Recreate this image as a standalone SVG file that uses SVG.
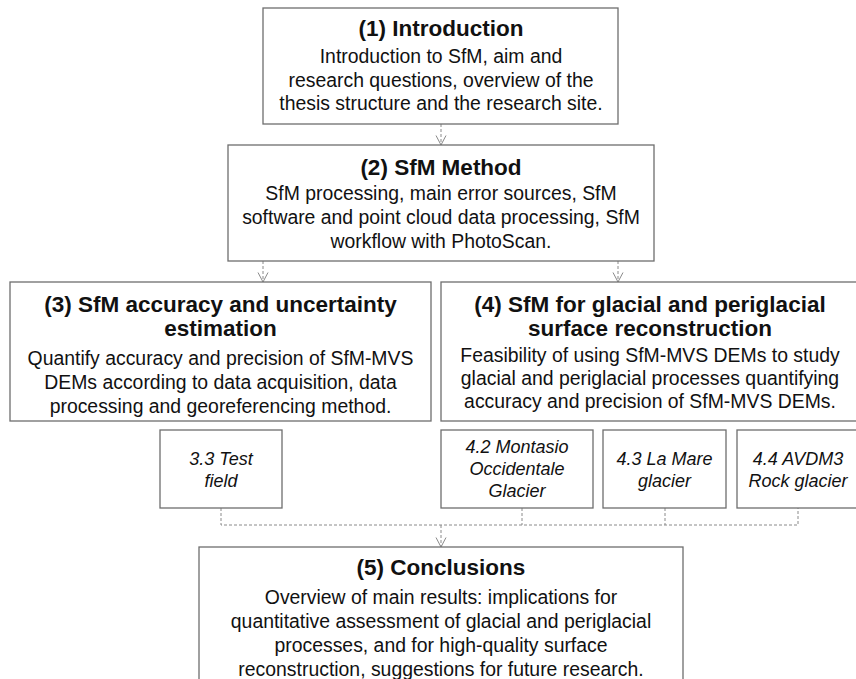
<svg xmlns="http://www.w3.org/2000/svg" width="856" height="679" viewBox="0 0 856 679">
<defs>
<marker id="arr" markerWidth="14" markerHeight="14" refX="12" refY="7" orient="auto" markerUnits="userSpaceOnUse" viewBox="0 0 14 14">
<path d="M2.5,2 L12,7 L2.5,12" fill="none" stroke="#8a8a8a" stroke-width="1"/>
</marker>
<style>
.box{fill:#fff;stroke:#6e6e6e;stroke-width:1.3}
.h{font-family:"Liberation Sans",Arial,sans-serif;font-weight:bold;font-size:22.5px;fill:#111;text-anchor:middle}
.b{font-family:"Liberation Sans",Arial,sans-serif;font-size:19.4px;fill:#111;text-anchor:middle}
.s{font-family:"Liberation Sans",Arial,sans-serif;font-style:italic;font-size:18px;fill:#111;text-anchor:middle}
.c{fill:none;stroke:#8a8a8a;stroke-width:1;stroke-dasharray:3,2}
</style>
</defs>
<rect width="856" height="679" fill="#fff"/>
<g id="connectors">
<line class="c" x1="441" y1="124" x2="441" y2="145" marker-end="url(#arr)"/>
<line class="c" x1="263" y1="261" x2="263" y2="282" marker-end="url(#arr)"/>
<line class="c" x1="618" y1="261" x2="618" y2="282" marker-end="url(#arr)"/>
<polyline class="c" points="221,508 221,525 798,525 798,508"/>
<line class="c" x1="522" y1="508" x2="522" y2="525"/>
<line class="c" x1="665" y1="508" x2="665" y2="525"/>
<line class="c" x1="441" y1="525" x2="441" y2="547" marker-end="url(#arr)"/>
</g>
<g id="n1">
<rect class="box" x="263" y="8" width="355" height="116"/>
<text class="h" x="441" y="36">(1) Introduction</text>
<text class="b" x="441" y="63">Introduction to SfM, aim and</text>
<text class="b" x="441" y="87">research questions, overview of the</text>
<text class="b" x="441" y="110">thesis structure and the research site.</text>
</g>
<g id="n2">
<rect class="box" x="228" y="145" width="426" height="116"/>
<text class="h" x="441" y="175">(2) SfM Method</text>
<text class="b" x="441" y="200">SfM processing, main error sources, SfM</text>
<text class="b" x="441" y="224">software and point cloud data processing, SfM</text>
<text class="b" x="441" y="248">workflow with PhotoScan.</text>
</g>
<g id="n3">
<rect class="box" x="10" y="282" width="421" height="139"/>
<text class="h" x="220.5" y="312">(3) SfM accuracy and uncertainty</text>
<text class="h" x="220.5" y="336">estimation</text>
<text class="b" x="220.5" y="365">Quantify accuracy and precision of SfM-MVS</text>
<text class="b" x="220.5" y="389">DEMs according to data acquisition, data</text>
<text class="b" x="220.5" y="413">processing and georeferencing method.</text>
</g>
<g id="n4">
<rect class="box" x="441" y="282" width="420" height="139"/>
<text class="h" x="650" y="312">(4) SfM for glacial and periglacial</text>
<text class="h" x="650" y="336">surface reconstruction</text>
<text class="b" x="650" y="362">Feasibility of using SfM-MVS DEMs to study</text>
<text class="b" x="650" y="385">glacial and periglacial processes quantifying</text>
<text class="b" x="650" y="408">accuracy and precision of SfM-MVS DEMs.</text>
</g>
<g id="n33">
<rect class="box" x="160" y="430" width="122" height="78"/>
<text class="s" x="221" y="465">3.3 Test</text>
<text class="s" x="221" y="487">field</text>
</g>
<g id="n42">
<rect class="box" x="441" y="430" width="152" height="78"/>
<text class="s" x="517" y="453">4.2 Montasio</text>
<text class="s" x="517" y="475">Occidentale</text>
<text class="s" x="517" y="497">Glacier</text>
</g>
<g id="n43">
<rect class="box" x="603" y="430" width="123" height="78"/>
<text class="s" x="664.5" y="465">4.3 La Mare</text>
<text class="s" x="664.5" y="487">glacier</text>
</g>
<g id="n44">
<rect class="box" x="737" y="430" width="124" height="78"/>
<text class="s" x="798" y="465">4.4 AVDM3</text>
<text class="s" x="798" y="487">Rock glacier</text>
</g>
<g id="n5">
<rect class="box" x="199" y="547" width="484" height="145"/>
<text class="h" x="441" y="575">(5) Conclusions</text>
<text class="b" x="441" y="604">Overview of main results: implications for</text>
<text class="b" x="441" y="628">quantitative assessment of glacial and periglacial</text>
<text class="b" x="441" y="652">processes, and for high-quality surface</text>
<text class="b" x="441" y="676">reconstruction, suggestions for future research.</text>
</g>
</svg>
